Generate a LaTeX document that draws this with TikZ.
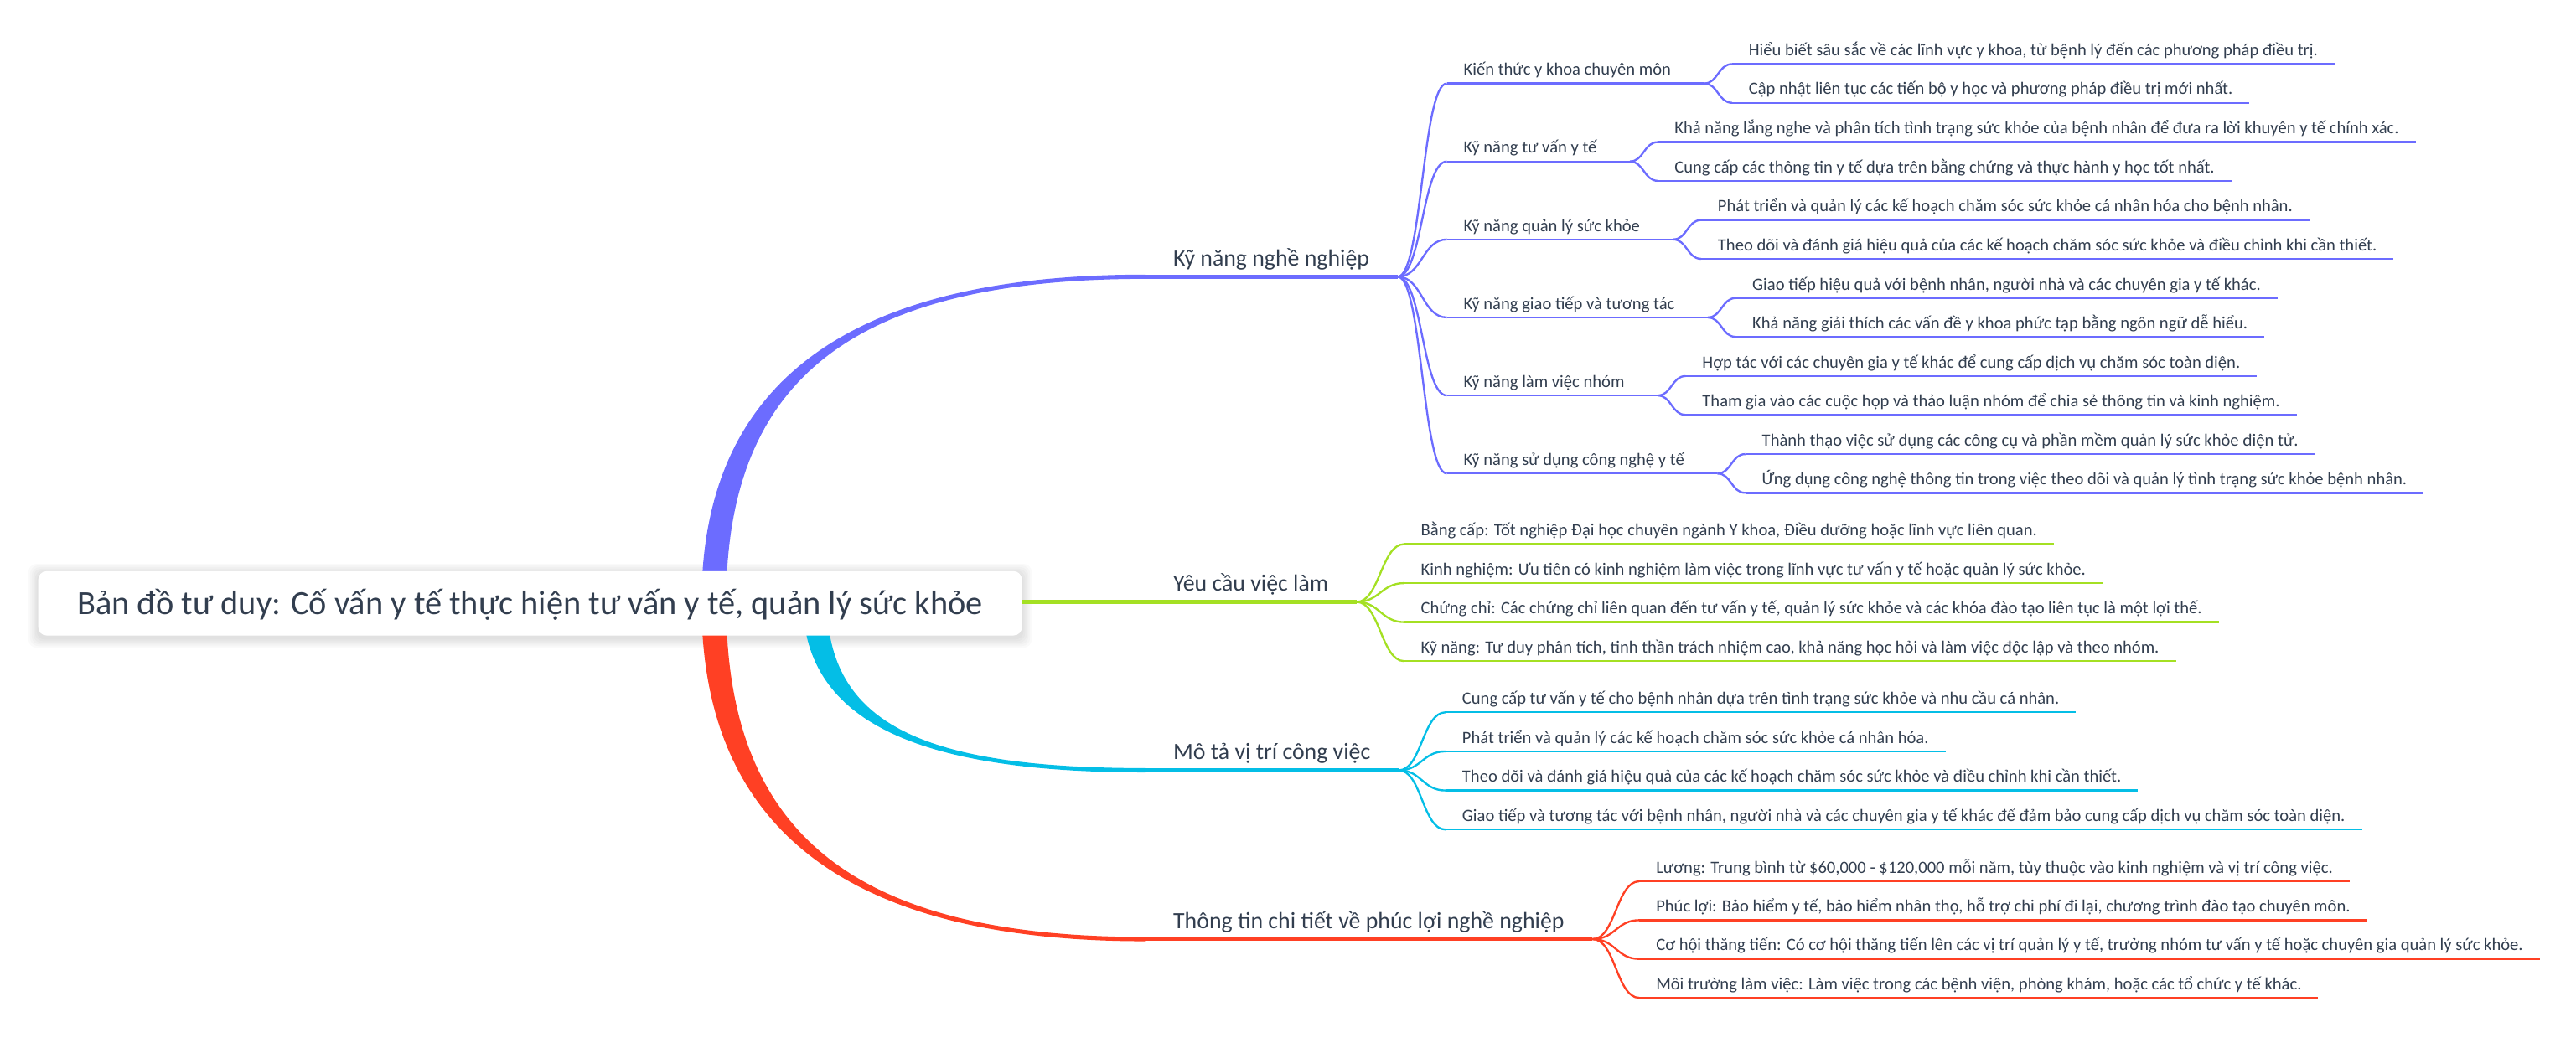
\documentclass[tikz,border=0pt]{standalone}
\usepackage{fontspec}
\setmainfont{Carlito}
\usetikzlibrary{calc}
\pgfdeclarelayer{bg}
\pgfsetlayers{bg,main}
\definecolor{ink}{HTML}{323E4F}
\definecolor{cP}{HTML}{6C6CFF}
\definecolor{cG}{HTML}{A4E023}
\definecolor{cC}{HTML}{04BEE6}
\definecolor{cR}{HTML}{FF4024}
\begin{document}
\begin{tikzpicture}[x=1pt,y=1pt,
  lone/.style={anchor=south west, font=\fontsize{14.2}{17}\selectfont, text=ink, inner xsep=17pt, inner ysep=6.2pt, text height=10pt, text depth=0pt},
  ltwo/.style={anchor=south west, font=\fontsize{10.5}{12.6}\selectfont, text=ink, inner xsep=10pt, inner ysep=4.8pt, text height=7.5pt, text depth=0pt},
  mainline/.style={line width=2.4pt},
  subline/.style={line width=1.2pt},
]
\useasboundingbox (0,0) rectangle (1568,-638);

% root
\node[fill=white, rounded corners=5pt, minimum width=598.7pt, minimum height=39.1pt, inner sep=0pt, text=ink, font=\fontsize{20.6}{24}\selectfont, text height=13.3pt, text depth=0pt] (root) at (322.65,-367.35) {Bản đồ tư duy: Cố vấn y tế thực hiện tư vấn y tế, quản lý sức khỏe};
\coordinate (rP) at (434.5,-367);
\coordinate (rR) at (434.5,-367);
\coordinate (rC) at (496,-367);

% level 1
\node[lone] (k1) at (697,-168.5) {Kỹ năng nghề nghiệp};
\node[lone] (k2) at (697,-366.5) {Yêu cầu việc làm};
\node[lone] (k3) at (697,-469) {Mô tả vị trí công việc};
\node[lone] (k4) at (697,-571.8) {Thông tin chi tiết về phúc lợi nghề nghiệp};

% purple level 2
\node[ltwo] (a) at ($(k1.south east)+(30,117.7)$) {Kiến thức y khoa chuyên môn};
\node[ltwo] (b) at ($(k1.south east)+(30,70.2)$) {Kỹ năng tư vấn y tế};
\node[ltwo] (c) at ($(k1.south east)+(30,22.7)$) {Kỹ năng quản lý sức khỏe};
\node[ltwo] (d) at ($(k1.south east)+(30,-24.8)$) {Kỹ năng giao tiếp và tương tác};
\node[ltwo] (e) at ($(k1.south east)+(30,-72.3)$) {Kỹ năng làm việc nhóm};
\node[ltwo] (f) at ($(k1.south east)+(30,-119.8)$) {Kỹ năng sử dụng công nghệ y tế};

% purple leaves
\node[ltwo] (a1) at ($(a.south east)+(27,11.8)$) {Hiểu biết sâu sắc về các lĩnh vực y khoa, từ bệnh lý đến các phương pháp điều trị.};
\node[ltwo] (a2) at ($(a.south east)+(27,-11.8)$) {Cập nhật liên tục các tiến bộ y học và phương pháp điều trị mới nhất.};
\node[ltwo] (b1) at ($(b.south east)+(27,11.8)$) {Khả năng lắng nghe và phân tích tình trạng sức khỏe của bệnh nhân để đưa ra lời khuyên y tế chính xác.};
\node[ltwo] (b2) at ($(b.south east)+(27,-11.8)$) {Cung cấp các thông tin y tế dựa trên bằng chứng và thực hành y học tốt nhất.};
\node[ltwo] (c1) at ($(c.south east)+(27,11.8)$) {Phát triển và quản lý các kế hoạch chăm sóc sức khỏe cá nhân hóa cho bệnh nhân.};
\node[ltwo] (c2) at ($(c.south east)+(27,-11.8)$) {Theo dõi và đánh giá hiệu quả của các kế hoạch chăm sóc sức khỏe và điều chỉnh khi cần thiết.};
\node[ltwo] (d1) at ($(d.south east)+(27,11.8)$) {Giao tiếp hiệu quả với bệnh nhân, người nhà và các chuyên gia y tế khác.};
\node[ltwo] (d2) at ($(d.south east)+(27,-11.8)$) {Khả năng giải thích các vấn đề y khoa phức tạp bằng ngôn ngữ dễ hiểu.};
\node[ltwo] (e1) at ($(e.south east)+(27,11.8)$) {Hợp tác với các chuyên gia y tế khác để cung cấp dịch vụ chăm sóc toàn diện.};
\node[ltwo] (e2) at ($(e.south east)+(27,-11.8)$) {Tham gia vào các cuộc họp và thảo luận nhóm để chia sẻ thông tin và kinh nghiệm.};
\node[ltwo] (f1) at ($(f.south east)+(27,11.8)$) {Thành thạo việc sử dụng các công cụ và phần mềm quản lý sức khỏe điện tử.};
\node[ltwo] (f2) at ($(f.south east)+(27,-11.8)$) {Ứng dụng công nghệ thông tin trong việc theo dõi và quản lý tình trạng sức khỏe bệnh nhân.};

% green leaves
\node[ltwo] (g1) at ($(k2.south east)+(29,35.2)$) {Bằng cấp: Tốt nghiệp Đại học chuyên ngành Y khoa, Điều dưỡng hoặc lĩnh vực liên quan.};
\node[ltwo] (g2) at ($(k2.south east)+(29,11.45)$) {Kinh nghiệm: Ưu tiên có kinh nghiệm làm việc trong lĩnh vực tư vấn y tế hoặc quản lý sức khỏe.};
\node[ltwo] (g3) at ($(k2.south east)+(29,-12.3)$) {Chứng chỉ: Các chứng chỉ liên quan đến tư vấn y tế, quản lý sức khỏe và các khóa đào tạo liên tục là một lợi thế.};
\node[ltwo] (g4) at ($(k2.south east)+(29,-36.05)$) {Kỹ năng: Tư duy phân tích, tinh thần trách nhiệm cao, khả năng học hỏi và làm việc độc lập và theo nhóm.};

% cyan leaves
\node[ltwo] (m1) at ($(k3.south east)+(28.5,35.3)$) {Cung cấp tư vấn y tế cho bệnh nhân dựa trên tình trạng sức khỏe và nhu cầu cá nhân.};
\node[ltwo] (m2) at ($(k3.south east)+(28.5,11.5)$) {Phát triển và quản lý các kế hoạch chăm sóc sức khỏe cá nhân hóa.};
\node[ltwo] (m3) at ($(k3.south east)+(28.5,-12.3)$) {Theo dõi và đánh giá hiệu quả của các kế hoạch chăm sóc sức khỏe và điều chỉnh khi cần thiết.};
\node[ltwo] (m4) at ($(k3.south east)+(28.5,-36.1)$) {Giao tiếp và tương tác với bệnh nhân, người nhà và các chuyên gia y tế khác để đảm bảo cung cấp dịch vụ chăm sóc toàn diện.};

% red leaves
\node[ltwo] (t1) at ($(k4.south east)+(28.5,35.2)$) {Lương: Trung bình từ \$60,000 - \$120,000 mỗi năm, tùy thuộc vào kinh nghiệm và vị trí công việc.};
\node[ltwo] (t2) at ($(k4.south east)+(28.5,11.55)$) {Phúc lợi: Bảo hiểm y tế, bảo hiểm nhân thọ, hỗ trợ chi phí đi lại, chương trình đào tạo chuyên môn.};
\node[ltwo] (t3) at ($(k4.south east)+(28.5,-12.1)$) {Cơ hội thăng tiến: Có cơ hội thăng tiến lên các vị trí quản lý y tế, trưởng nhóm tư vấn y tế hoặc chuyên gia quản lý sức khỏe.};
\node[ltwo] (t4) at ($(k4.south east)+(28.5,-35.75)$) {Môi trường làm việc: Làm việc trong các bệnh viện, phòng khám, hoặc các tổ chức y tế khác.};

\begin{pgfonlayer}{bg}
  % root shadow
  \foreach \d in {1,...,6}{
    \fill[black, opacity=0.018, rounded corners=5pt] ({23.3-\d},{-347.8+\d-1.5}) rectangle ({622+\d},{-386.9-\d-1.5});
  }
  % tapered main branches
  \fill[cP] ($(rP)+(-7.5,0)$) .. controls ($(rP)+(-7.5,137)$) and ($(k1.south west)+(-177,1.3)$) .. ($(k1.south west)+(0,1.3)$) -- ($(k1.south west)+(0,-1.3)$) .. controls ($(k1.south west)+(-177,-1.3)$) and ($(rP)+(7.5,137)$) .. ($(rP)+(7.5,0)$) -- cycle;
  \fill[cR] ($(rR)+(-7.5,0)$) .. controls ($(rR)+(-7.5,-141)$) and ($(k4.south west)+(-177,-1.3)$) .. ($(k4.south west)+(0,-1.3)$) -- ($(k4.south west)+(0,1.3)$) .. controls ($(k4.south west)+(-177,1.3)$) and ($(rR)+(7.5,-141)$) .. ($(rR)+(7.5,0)$) -- cycle;
  \fill[cC] ($(rC)+(-7.3,0)$) .. controls ($(rC)+(-6.3,-73)$) and ($(k3.south west)+(-137,-1.3)$) .. ($(k3.south west)+(0,-1.3)$) -- ($(k3.south west)+(0,1.3)$) .. controls ($(k3.south west)+(-137,1.3)$) and ($(rC)+(8.3,-73)$) .. ($(rC)+(7.3,0)$) -- cycle;
\end{pgfonlayer}

% main underlines
\draw[cP, mainline] (k1.south west) -- (k1.south east);
\draw[cG, mainline] (k2.south west -| root.east) -- (k2.south east);
\draw[cC, mainline] (k3.south west) -- (k3.south east);
\draw[cR, mainline] (k4.south west) -- (k4.south east);

% purple level 2 and leaves
\foreach \n in {a,b,c,d,e,f}{
  \draw[cP, subline] (k1.south east) .. controls +(15,0) and +(-15,0) .. (\n.south west);
  \draw[cP, subline] (\n.south west) -- ([xshift=10pt]\n.south east);
  \foreach \m in {1,2}{
    \draw[cP, subline] ([xshift=10pt]\n.south east) .. controls +(8.5,0) and +(-8.5,0) .. (\n\m.south west);
    \draw[cP, subline] (\n\m.south west) -- (\n\m.south east);
  }
}
% green, cyan, red leaves
\foreach \m in {1,2,3,4}{
  \draw[cG, subline] (k2.south east) .. controls +(14,0) and +(-14,0) .. (g\m.south west);
  \draw[cG, subline] (g\m.south west) -- (g\m.south east);
  \draw[cC, subline] (k3.south east) .. controls +(14,0) and +(-14,0) .. (m\m.south west);
  \draw[cC, subline] (m\m.south west) -- (m\m.south east);
  \draw[cR, subline] (k4.south east) .. controls +(14,0) and +(-14,0) .. (t\m.south west);
  \draw[cR, subline] (t\m.south west) -- (t\m.south east);
}
\end{tikzpicture}
\end{document}
